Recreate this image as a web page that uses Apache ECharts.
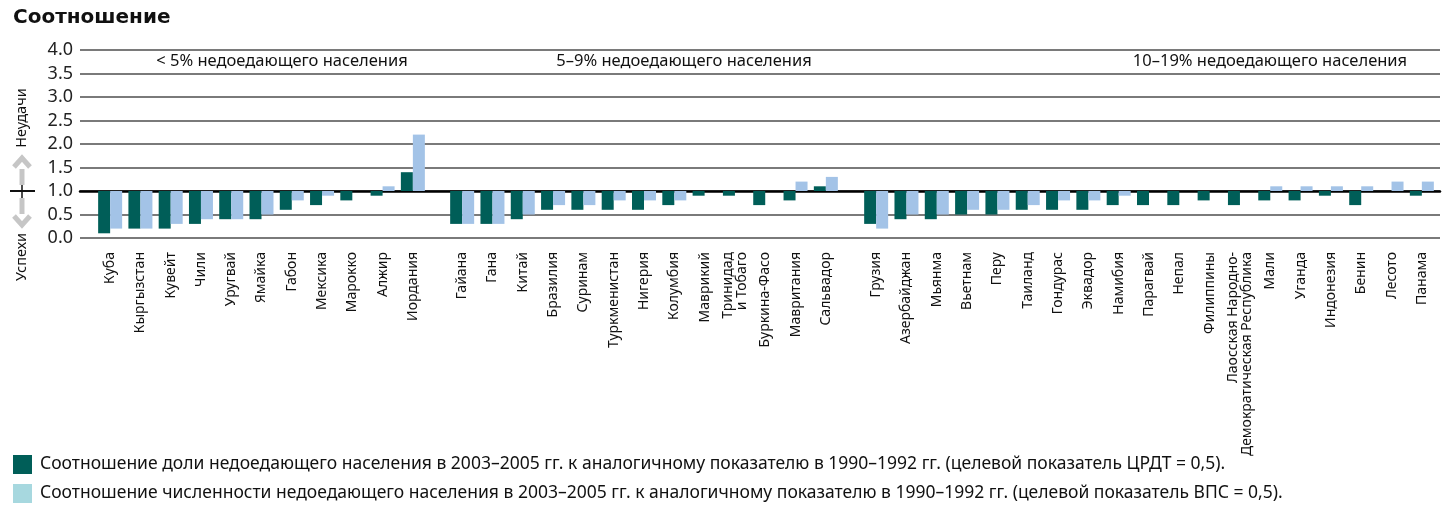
<!DOCTYPE html>
<html>
<head>
<meta charset="utf-8">
<script src="https://cdn.jsdelivr.net/npm/echarts@6/dist/echarts.min.js"></script>
<style>
  html, body { margin: 0; padding: 0; background: #fff; }
  #main { width: 1445px; height: 507px; }
</style>
</head>
<body>
<div id="main"></div>
<script>
// three country groups, by share of undernourished population
const groupTitles = ["< 5% недоедающего населения", "5–9% недоедающего населения", "10–19% недоедающего населения"];

const countries1 = ["Куба", "Кыргызстан", "Кувейт", "Чили", "Уругвай", "Ямайка", "Габон", "Мексика", "Марокко", "Алжир", "Иордания"];
const share1 = [0.1, 0.2, 0.2, 0.3, 0.4, 0.4, 0.6, 0.7, 0.8, 0.9, 1.4];
const number1 = [0.2, 0.2, 0.3, 0.4, 0.4, 0.5, 0.8, 0.9, 1.0, 1.1, 2.2];

const countries2 = ["Гайана", "Гана", "Китай", "Бразилия", "Суринам", "Туркменистан", "Нигерия", "Колумбия", "Маврикий", "Тринидад\nи Тобаго", "Буркина-Фасо", "Мавритания", "Сальвадор"];
const share2 = [0.3, 0.3, 0.4, 0.6, 0.6, 0.6, 0.6, 0.7, 0.9, 0.9, 0.7, 0.8, 1.1];
const number2 = [0.3, 0.3, 0.5, 0.7, 0.7, 0.8, 0.8, 0.8, 1.0, 1.0, 1.0, 1.2, 1.3];

const countries3 = ["Грузия", "Азербайджан", "Мьянма", "Вьетнам", "Перу", "Таиланд", "Гондурас", "Эквадор", "Намибия", "Парагвай", "Непал", "Филиппины", "Лаосская Народно-\nДемократическая Республика", "Мали", "Уганда", "Индонезия", "Бенин", "Лесото", "Панама"];
const share3 = [0.3, 0.4, 0.4, 0.5, 0.5, 0.6, 0.6, 0.6, 0.7, 0.7, 0.7, 0.8, 0.7, 0.8, 0.8, 0.9, 0.7, 1.0, 0.9];
const number3 = [0.2, 0.5, 0.5, 0.6, 0.6, 0.7, 0.8, 0.8, 0.9, 1.0, 1.0, 1.0, 1.0, 1.1, 1.1, 1.1, 1.1, 1.2, 1.2];

const nameShare = "Соотношение доли недоедающего населения в 2003–2005 гг. к аналогичному показателю в 1990–1992 гг. (целевой показатель ЦРДТ = 0,5).";
const nameNumber = "Соотношение численности недоедающего населения в 2003–2005 гг. к аналогичному показателю в 1990–1992 гг. (целевой показатель ВПС = 0,5).";

const BASE = 1; // bars grow from ratio 1.0
const FONT = "Noto Sans";
const DARK = "#005e58";
const LIGHT = "#a3c3e7";
const ARROW = "#c6c6c6";

const chart = echarts.init(document.getElementById("main"));

const groups = [
  { cats: countries1, a: share1, b: number1, left: 95, width: 333 },
  { cats: countries2, a: share2, b: number2, left: 447, width: 394 },
  { cats: countries3, a: share3, b: number3, left: 861, width: 576 }
];

// grid 0 is only the background: gridlines, y labels and the 1.0 line
const grids = [{ left: 80, width: 1360, top: 50, height: 188 }];
const xAxes = [{
  gridIndex: 0, type: "value", min: 0, max: 1,
  axisLine: { onZero: true, lineStyle: { color: "#000", width: 2.5 } },
  axisTick: { show: false }, axisLabel: { show: false }, splitLine: { show: false }
}];
const yAxes = [{
  gridIndex: 0, type: "value", min: -1, max: 3, interval: 0.5,
  axisLine: { show: false }, axisTick: { show: false },
  axisLabel: {
    formatter: v => (v + BASE).toFixed(1),
    fontFamily: FONT, fontSize: 18, color: "#222", margin: 7
  },
  splitLine: { lineStyle: { color: "#7a7a7a", width: 2 } }
}];
const series = [];

groups.forEach((g, i) => {
  const gi = i + 1;
  grids.push({ left: g.left, width: g.width, top: 50, height: 188 });
  xAxes.push({
    gridIndex: gi, type: "category", data: g.cats,
    axisLine: { show: false }, axisTick: { show: false },
    axisLabel: {
      rotate: 90, interval: 0, margin: 14,
      fontFamily: FONT, fontSize: 14, color: "#111", lineHeight: 14
    }
  });
  yAxes.push({ gridIndex: gi, type: "value", min: -1, max: 3, show: false, splitLine: { show: false } });
  series.push({
    name: nameShare, type: "bar", xAxisIndex: gi, yAxisIndex: gi,
    data: g.a.map(v => +(v - BASE).toFixed(2)),
    barWidth: 12, barGap: "0%", itemStyle: { color: DARK }, silent: true
  });
  series.push({
    name: nameNumber, type: "bar", xAxisIndex: gi, yAxisIndex: gi,
    data: g.b.map(v => +(v - BASE).toFixed(2)),
    barWidth: 12, barGap: "0%", itemStyle: { color: LIGHT }, silent: true
  });
});

const txt = (x, y, text, extra, rot) => ({
  type: "text", x: x, y: y, rotation: rot || 0,
  style: Object.assign({ text: text, fontFamily: FONT, fontSize: 16.5, fill: "#111", align: "center", verticalAlign: "middle" }, extra || {})
});

chart.setOption({
  animation: false,
  title: {
    text: "Соотношение", left: 13, top: 8, padding: 0,
    textStyle: { fontFamily: "DejaVu Sans", fontSize: 20, fontWeight: "bold", color: "#111" }
  },
  legend: {
    orient: "vertical", left: 13, top: 455, padding: 0, height: 60,
    itemWidth: 19, itemHeight: 19, itemGap: 10, icon: "rect",
    textStyle: { fontFamily: FONT, fontSize: 17.5, color: "#111", padding: [0, 0, 0, 3] },
    data: [
      { name: nameShare, itemStyle: { color: DARK } },
      { name: nameNumber, itemStyle: { color: "#a7d8df" } }
    ]
  },
  grid: grids, xAxis: xAxes, yAxis: yAxes, series: series,
  graphic: [
    txt(282, 61, groupTitles[0]),
    txt(684, 61, groupTitles[1]),
    txt(1270, 61, groupTitles[2]),
    txt(22, 118, "Неудачи", { fontSize: 14.5 }, Math.PI / 2),
    txt(22, 257, "Успехи", { fontSize: 14.5 }, Math.PI / 2),
    // arrows and marker at ratio 1.0
    { type: "rect", shape: { x: 19.5, y: 169, width: 5, height: 16 }, style: { fill: ARROW } },
    { type: "polyline", shape: { points: [[14, 167], [22, 158], [30, 167]] }, style: { stroke: ARROW, lineWidth: 5, fill: null } },
    { type: "rect", shape: { x: 19.5, y: 198, width: 5, height: 16 }, style: { fill: ARROW } },
    { type: "polyline", shape: { points: [[14, 216], [22, 225], [30, 216]] }, style: { stroke: ARROW, lineWidth: 5, fill: null } },
    { type: "line", shape: { x1: 10, y1: 191, x2: 35, y2: 191 }, style: { stroke: "#111", lineWidth: 2 } },
    { type: "line", shape: { x1: 22, y1: 185, x2: 22, y2: 198 }, style: { stroke: "#111", lineWidth: 1.5 } }
  ]
});
</script>
</body>
</html>
